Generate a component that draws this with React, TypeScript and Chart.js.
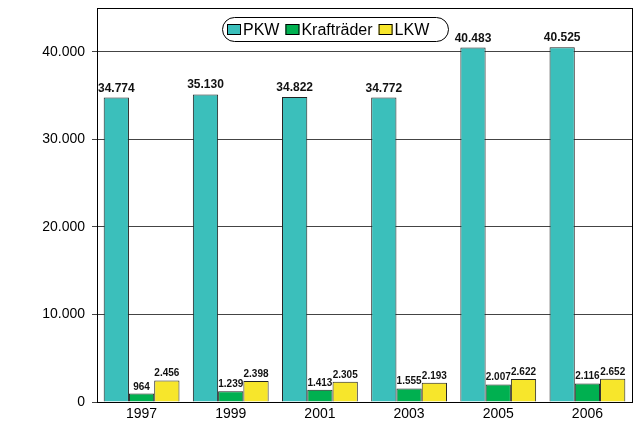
import React, { useEffect, useRef } from "react";
import { Chart, registerables } from "chart.js";

Chart.register(...registerables);

const categories = ["1997", "1999", "2001", "2003", "2005", "2006"];
const seriesNames = ["PKW", "Krafträder", "LKW"];
const pkw = [34774, 35130, 34822, 34772, 40483, 40525];
const kraftraeder = [964, 1239, 1413, 1555, 2007, 2116];
const lkw = [2456, 2398, 2305, 2193, 2622, 2652];
const seriesColors = ["#3BBFBB", "#00B050", "#F7E62B"];
const yTicks = [0, 10000, 20000, 30000, 40000];
const yMax = 45000;

const fmt = (v: number) => {
  const s = Math.round(v).toString();
  return s.replace(/\B(?=(\d{3})+(?!\d))/g, ".");
};

const FONT = "'Liberation Sans', Arial, sans-serif";

const labelPlugin = {
  id: "valueLabels",
  afterDatasetsDraw(chart: any) {
    const ctx = chart.ctx;
    ctx.save();
    ctx.fillStyle = "#111";
    ctx.textAlign = "center";
    ctx.textBaseline = "alphabetic";
    chart.data.datasets.forEach((ds: any, i: number) => {
      const meta = chart.getDatasetMeta(i);
      ctx.font = i === 0 ? `bold 12px ${FONT}` : `bold 10px ${FONT}`;
      meta.data.forEach((el: any, j: number) => {
        const gap = i === 0 ? 6 : 4;
        ctx.fillText(fmt(ds.data[j]), el.x, el.y - gap);
      });
    });
    ctx.restore();
  },
};

const framePlugin = {
  id: "frameAndLegend",
  afterDraw(chart: any) {
    const ctx = chart.ctx;
    const a = chart.chartArea;
    ctx.save();
    ctx.strokeStyle = "#000";
    ctx.lineWidth = 1;
    ctx.strokeRect(Math.round(a.left) + 0.5, Math.round(a.top) + 0.5, Math.round(a.right - a.left), Math.round(a.bottom - a.top));

    // legend pill
    const lx = 222, ly = 17, lw = 227, lh = 25, r = 12.5;
    ctx.beginPath();
    ctx.moveTo(lx + r, ly + 0.5);
    ctx.lineTo(lx + lw - r, ly + 0.5);
    ctx.arc(lx + lw - r, ly + r, r - 0.5, -Math.PI / 2, Math.PI / 2);
    ctx.lineTo(lx + r, ly + lh - 0.5);
    ctx.arc(lx + r, ly + r, r - 0.5, Math.PI / 2, (3 * Math.PI) / 2);
    ctx.closePath();
    ctx.fillStyle = "#fff";
    ctx.fill();
    ctx.strokeStyle = "#000";
    ctx.stroke();

    ctx.font = `16px ${FONT}`;
    ctx.textBaseline = "middle";
    ctx.textAlign = "left";
    let x = 227;
    const cy = ly + lh / 2;
    seriesNames.forEach((name, i) => {
      ctx.fillStyle = seriesColors[i];
      ctx.fillRect(x, cy - 5.5, 14, 11);
      ctx.strokeStyle = "#000";
      ctx.strokeRect(x + 0.5, cy - 5, 13, 10);
      x += 16;
      ctx.fillStyle = "#000";
      ctx.fillText(name, x, cy + 1);
      x += ctx.measureText(name).width + 6;
    });
    ctx.restore();
  },
};

export default function App() {
  const ref = useRef<HTMLCanvasElement | null>(null);
  useEffect(() => {
    if (!ref.current) return;
    const chart = new Chart(ref.current, {
      type: "bar",
      data: {
        labels: categories,
        datasets: [pkw, kraftraeder, lkw].map((d, i) => ({
          label: seriesNames[i],
          data: d,
          backgroundColor: seriesColors[i],
          borderColor: "#222",
          borderWidth: 1,
          categoryPercentage: 0.85,
          barPercentage: 1,
        })),
      },
      options: {
        responsive: false,
        animation: false,
        layout: { padding: { left: 0, right: 10, top: 8, bottom: 0 } },
        plugins: { legend: { display: false }, tooltip: { enabled: false } },
        scales: {
          x: {
            grid: { display: false, drawTicks: false },
            border: { display: true, color: "#000" },
            ticks: { color: "#000", font: { family: FONT, size: 14 }, padding: 4 },
            afterFit(scale: any) {
              scale.height = 21;
              scale.paddingLeft = 0;
              scale.paddingRight = 0;
            },
          },
          y: {
            min: 0,
            max: yMax,
            grid: { color: "#444", tickLength: 5 },
            border: { display: true, color: "#000" },
            ticks: {
              color: "#000",
              font: { family: FONT, size: 14 },
              padding: 7,
              callback: (v: any) => fmt(Number(v)),
            },
            afterBuildTicks(scale: any) {
              scale.ticks = yTicks.map((v) => ({ value: v }));
            },
            afterFit(scale: any) {
              scale.width = 97;
              scale.paddingTop = 0;
              scale.paddingBottom = 0;
            },
          },
        },
      },
      plugins: [labelPlugin, framePlugin],
    });
    return () => chart.destroy();
  }, []);
  return (
    <div style={{ position: "fixed", left: 0, top: 0, width: 642, height: 423, background: "#fff" }}>
      <canvas ref={ref} width={642} height={423} />
    </div>
  );
}
